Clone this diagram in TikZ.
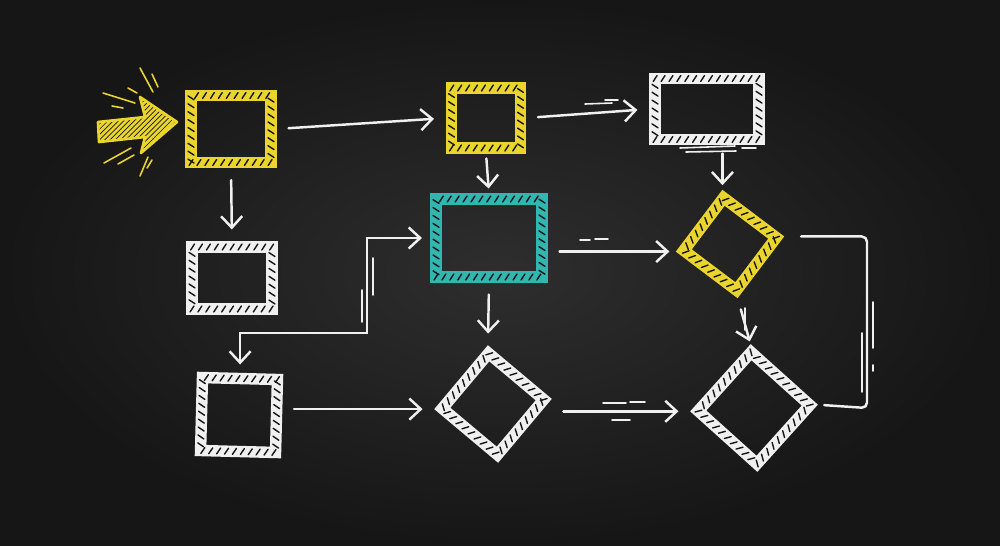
\documentclass[tikz,border=0pt]{standalone}
\usetikzlibrary{arrows.meta,decorations.markings,patterns}

\definecolor{board}{RGB}{22,22,22}
\definecolor{boardmid}{RGB}{46,46,46}
\definecolor{chalk}{RGB}{240,240,240}
\definecolor{chalkyellow}{RGB}{234,212,46}
\definecolor{chalkteal}{RGB}{50,182,176}

\tikzset{
  chalkbox/.style={rectangle, draw=#1, line width=6.5pt, line join=miter, inner sep=0pt, outer sep=3pt,
    postaction={decorate, decoration={markings,
      mark=between positions 0 and 1 step 4.5pt with {\draw[board, line width=0.8pt, line cap=round] (-1.1pt,-1.7pt) -- (1.1pt,1.7pt);}}}},
  flow/.style={draw=chalk, line width=1.4pt, line cap=round, -{Straight Barb[length=6.5pt,width=12pt]}, shorten <=7pt, shorten >=7pt},
  twoway/.style={flow, {Straight Barb[length=6.5pt,width=12pt]}-{Straight Barb[length=6.5pt,width=12pt]}, shorten <=5pt, shorten >=5pt},
  link/.style={draw=chalk, line width=1.4pt, line cap=round, rounded corners=3pt},
  stroke/.style={draw=#1, line width=0.9pt, line cap=round},
  stroke/.default=chalk
}

\begin{document}
\begin{tikzpicture}[x=0.02cm, y=-0.02cm]
  % board
  \useasboundingbox (0,0) rectangle (1000,545);
  \fill[board] (0,0) rectangle (1000,545);
  \shade[inner color=boardmid, outer color=board] (0,0) rectangle (1000,545);

  % start arrow with rays
  \fill[chalkyellow] (98,122) -- (145,117) -- (140,97) -- (177,122) -- (141,153) -- (145,137) -- (99,142) -- cycle;
  \fill[pattern=north east lines, pattern color=board] (98,122) -- (145,117) -- (140,97) -- (177,122) -- (141,153) -- (145,137) -- (99,142) -- cycle;
  \draw[chalkyellow, line width=1.5pt, line join=round] (98,122) -- (145,117) -- (140,97) -- (177,122) -- (141,153) -- (145,137) -- (99,142) -- cycle;
  \draw[stroke=chalkyellow] (140,68) -- (153,92);
  \draw[stroke=chalkyellow] (152,74) -- (158,87);
  \draw[stroke=chalkyellow] (103,93) -- (135,103);
  \draw[stroke=chalkyellow] (128,88) -- (137,93);
  \draw[stroke=chalkyellow] (112,106) -- (123,108);
  \draw[stroke=chalkyellow] (104,163) -- (131,148);
  \draw[stroke=chalkyellow] (118,164) -- (134,155);
  \draw[stroke=chalkyellow] (140,176) -- (148,157);
  \draw[stroke=chalkyellow] (147,168) -- (152,160);

  % boxes
  \node[chalkbox=chalkyellow, minimum width=1.6cm, minimum height=1.34cm] (start) at (231,129) {};
  \node[chalkbox=chalkyellow, minimum width=1.38cm, minimum height=1.2cm] (step) at (486,118) {};
  \node[chalkbox=chalk, minimum width=2.08cm, minimum height=1.22cm] (report) at (707,109) {};
  \node[chalkbox=chalk, minimum width=1.6cm, minimum height=1.24cm] (side) at (232,278) {};
  \node[chalkbox=chalkteal, minimum width=2.12cm, minimum height=1.56cm] (check) at (489,238) {};
  \node[chalkbox=chalkyellow, minimum size=1.32cm, rotate=-37] (decide) at (730,244) {};
  \node[chalkbox=chalk, minimum width=1.5cm, minimum height=1.46cm, rotate=-1.5] (lower) at (239,415) {};
  \node[chalkbox=chalk, minimum size=1.44cm, rotate=-40] (test) at (493,404) {};
  \node[chalkbox=chalk, minimum size=1.58cm, rotate=-42] (final) at (754,408) {};

  % connectors
  \draw[flow] (start.east) -- (step.west);
  \draw[flow] (step.east) -- (report.west);
  \draw[flow] (start.south) -- (side.north);
  \draw[flow, shorten <=3pt, shorten >=3pt] (step.south) -- (check.north);
  \draw[flow, shorten <=5pt, shorten >=3pt] (report.south -| decide.north west) -- (decide.north west);
  \draw[flow, shorten >=4pt] (check.east |- decide.south west) -- (decide.south west);
  \draw[flow] (check.south) -- (test.north west);
  \draw[flow, shorten >=2pt] (decide.south east) -- (final.north west);
  \draw[flow] (lower.east |- test.south west) -- (test.south west);
  \draw[flow] (final.south west -| test.north east) -- (final.south west);
  \coordinate (turn) at (367,333);
  \draw[twoway] (lower.north) |- (turn) |- (check.west);
  \coordinate (back) at (867,408);
  \draw[link, shorten <=10pt, shorten >=4pt] (decide.north east) -| (back) -- (final.north east);

  % chalk strokes
  \draw[stroke] (585,104) -- (612,103);
  \draw[stroke] (605,100) -- (618,100);
  \draw[stroke] (680,148) -- (735,146);
  \draw[stroke] (686,152) -- (736,151);
  \draw[stroke] (742,148) -- (756,148);
  \draw[stroke] (580,240) -- (590,240);
  \draw[stroke] (595,239) -- (608,239);
  \draw[stroke] (745,308) -- (745,330);
  \draw[stroke] (603,403) -- (626,403);
  \draw[stroke] (630,402) -- (645,402);
  \draw[stroke] (612,420) -- (630,420);
  \draw[stroke] (373,258) -- (373,295);
  \draw[stroke] (362,290) -- (362,322);
  \draw[stroke] (873,302) -- (873,348);
  \draw[stroke] (873,365) -- (873,371);
  \draw[stroke] (862,333) -- (862,392);
\end{tikzpicture}
\end{document}
